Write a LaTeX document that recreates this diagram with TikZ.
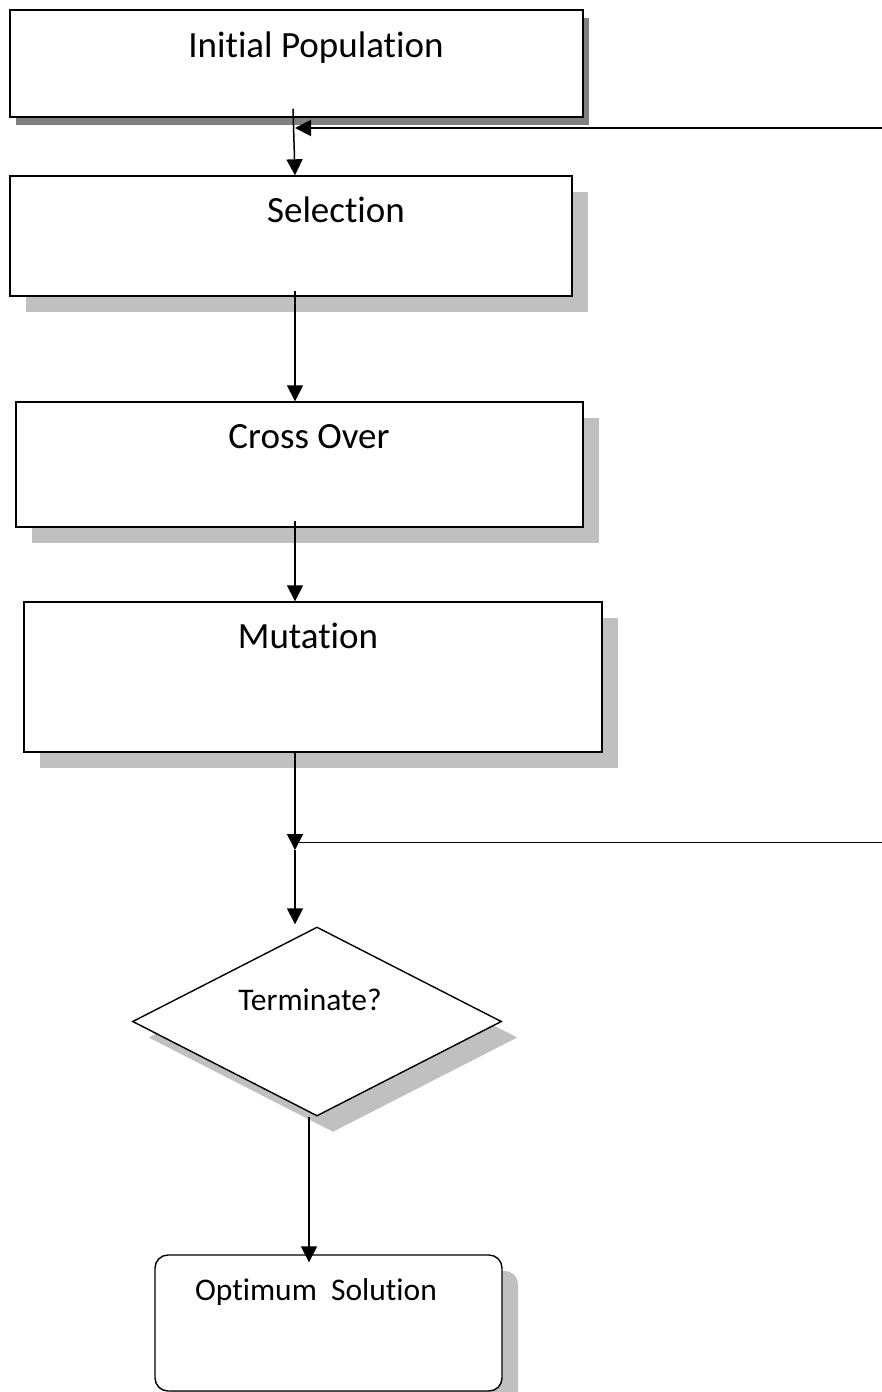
\documentclass[tikz,border=0pt]{standalone}
\usepackage{fontspec}
\setmainfont{Carlito}[Ligatures={NoCommon,NoContextual}]
\usetikzlibrary{arrows.meta,positioning,shadows,shapes.geometric}
\definecolor{gadark}{RGB}{128,128,128}
\definecolor{galight}{RGB}{192,192,192}
\tikzset{
  gabox/.style={draw,line width=1.4pt,fill=white,inner sep=0pt},
  lshadow/.style={drop shadow={shadow xshift=16pt,shadow yshift=-16pt,fill=galight,opacity=1}},
  dshadow/.style={drop shadow={shadow xshift=6pt,shadow yshift=-8pt,fill=gadark,opacity=1}},
  gatext/.style={anchor=base,inner sep=0pt,font=\fontsize{37}{44}\selectfont},
  gasmall/.style={anchor=base,inner sep=0pt,font=\fontsize{31.5}{38}\selectfont},
  flow/.style={-{Triangle[length=16pt,width=16pt]},line width=1.5pt},
}
\begin{document}
\begin{tikzpicture}[x=1pt,y=-1pt]
\useasboundingbox (0,0) rectangle (882,1392);
% --- GA steps ---
\node[gabox,dshadow,minimum width=573pt,minimum height=107pt] (init) at (296.5,63.5) {};
\node[gabox,lshadow,minimum width=562pt,minimum height=120pt] (sel) at (291,236) {};
\node[gabox,lshadow,minimum width=567pt,minimum height=125pt] (cross) at (299.5,464.5) {};
\node[gabox,lshadow,minimum width=578pt,minimum height=150pt] (mut) at (313,677) {};
\node[gabox,lshadow,diamond,minimum width=369pt,minimum height=189pt] (term) at (317,1021.5) {};
\node[gabox,lshadow,rounded corners=13pt,minimum width=347pt,minimum height=136pt] (optim) at (328.5,1323) {};
% labels
\node[gatext] (initT) at (316,57) {Initial Population};
\node[gatext] (selT) at (336,222) {Selection};
\node[gatext] (crossT) at (309,448) {Cross Over};
\node[gatext] (mutT) at (308,648) {Mutation};
\node[gasmall] (termT) at (310,1010) {Terminate?};
\node[gasmall] (optimT) at (316,1300) {Optimum\ \ Solution};
% loose ends at the right edge
\coordinate (fbin) at (882,128);
\coordinate (fbend) at (295,128);
\coordinate (jnin) at (882,842);
\coordinate (jn) at (295,842);
% flow arrows
\draw[flow] ([xshift=-3.5pt,yshift=9pt]init.south) -- ([xshift=4pt]sel.north);
\draw[flow,line width=2pt] (fbin) -- (fbend);
\draw[flow] ([xshift=4pt,yshift=6pt]sel.south) -- ([xshift=-4.5pt]cross.north);
\draw[flow] ([xshift=-4.5pt,yshift=7pt]cross.south) -- ([xshift=-18pt]mut.north);
\draw[flow] ([xshift=-18pt]mut.south) -- ([yshift=-8pt]jn);
\draw[line width=1pt] (jnin) -- (jn);
\draw[flow] ([yshift=-8pt]jn) -- ([xshift=-22pt,yshift=2pt]term.north);
\draw[flow] ([xshift=-8pt]term.south) -- ([xshift=-19.5pt,yshift=-8pt]optim.north);
\end{tikzpicture}
\end{document}
